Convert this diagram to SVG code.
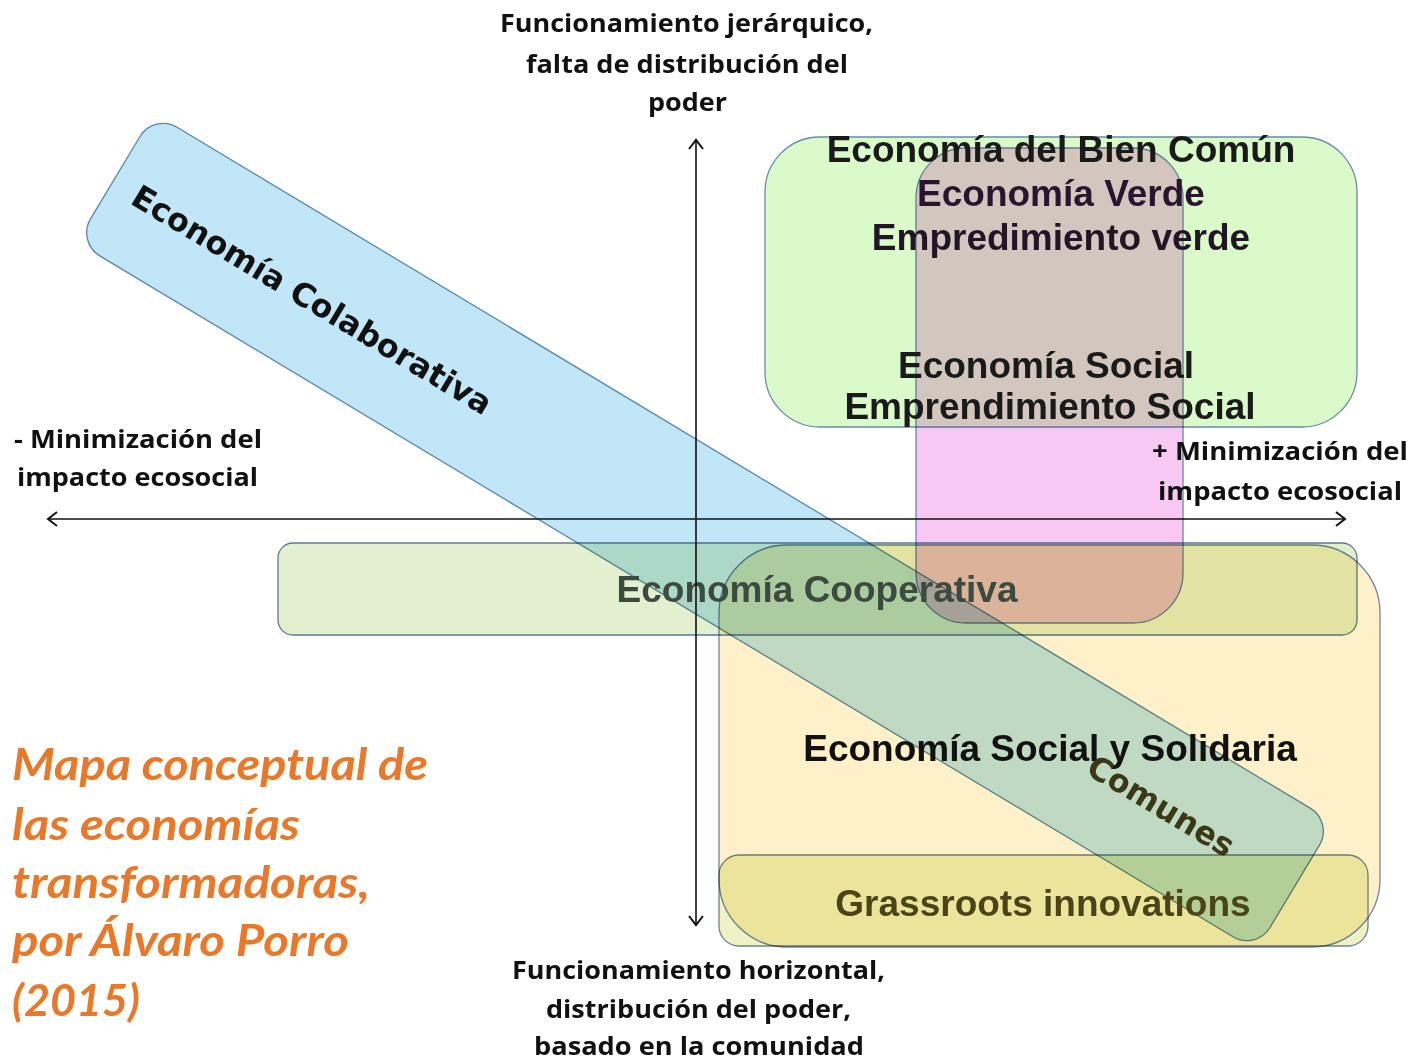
<svg xmlns="http://www.w3.org/2000/svg" width="1414" height="1061" viewBox="0 0 1414 1061">
<defs>
<style>
.box{mix-blend-mode:multiply;stroke-width:1.3}
.lbl{font-family:"Liberation Sans",Arial,sans-serif;font-weight:bold;font-size:37px;text-anchor:middle}
.rot{font-family:"DejaVu Sans",Verdana,sans-serif;font-weight:bold;font-size:32px;text-anchor:middle}
.axl{font-family:"Open Sans","Noto Sans",sans-serif;font-weight:bold;font-size:25px;fill:#111}
.ttl{font-family:Lato,"Open Sans",sans-serif;font-weight:bold;font-style:italic;font-size:43px;fill:#e8782a}
.axis{fill:none;stroke:#111;stroke-width:1.6}
</style>
<marker id="ah" viewBox="-12 -9 14 18" refX="0" refY="0" markerWidth="14" markerHeight="18" markerUnits="userSpaceOnUse" orient="auto-start-reverse">
<path d="M-9,-7 L0,0 L-9,7" fill="none" stroke="#111" stroke-width="2"/>
</marker>
</defs>
<rect width="1414" height="1061" fill="#fff"/>

<g id="cooperativa">
<rect class="box" x="278" y="543" width="1079" height="92" rx="15" fill="#e3f0cf" stroke="#5d7a9a"/>
</g>
<g id="colaborativa">
<rect class="box" x="-688" y="-75" width="1376" height="150" rx="27" fill="#c1e6f8" stroke="#5a86aa" transform="translate(705,532) rotate(31)"/>
</g>
<g id="bien-comun">
<rect class="box" x="765" y="137" width="592" height="290" rx="55" fill="#dafbc9" stroke="#6a8aac"/>
</g>
<g id="social">
<rect class="box" x="916" y="148" width="267" height="475" rx="50" fill="#f7c9f2" stroke="#7080b8"/>
</g>
<g id="ess">
<rect class="box" x="719" y="545" width="661" height="402" rx="68" fill="#fef1c9" stroke="#6c86a6"/>
</g>
<g id="grassroots">
<rect class="box" x="719" y="855" width="649" height="91" rx="20" fill="#eef2c6" stroke="#6f8096"/>
</g>

<g id="labels">
<text class="lbl" x="1061" y="162" fill="#1a1a1a">Economía del Bien Común</text>
<text class="lbl" x="1061" y="206" fill="#2a1530">Economía Verde</text>
<text class="lbl" x="1061" y="250" fill="#221626">Empredimiento verde</text>
<text class="lbl" x="1046" y="378" fill="#1a1a1a">Economía Social</text>
<text class="lbl" x="1050" y="419" fill="#1a1a1a">Emprendimiento Social</text>
<text class="lbl" x="817" y="602" fill="#3d4a40">Economía Cooperativa</text>
<text class="lbl" x="1050" y="761" fill="#111">Economía Social y Solidaria</text>
<text class="lbl" x="1043" y="916" fill="#4a4518">Grassroots innovations</text>
<text class="rot" transform="translate(312,300) rotate(31)" y="11" fill="#111">Economía Colaborativa</text>
<text class="rot" transform="translate(1161,806) rotate(31)" y="11" fill="#3a3815">Comunes</text>
</g>

<g id="connectors">
<line class="axis" x1="696" y1="925" x2="696" y2="140" marker-end="url(#ah)" marker-start="url(#ah)"/>
<line class="axis" x1="48" y1="519" x2="1345" y2="519" stroke="#444" stroke-width="2" marker-end="url(#ah)" marker-start="url(#ah)"/>
</g>

<g id="axis-labels">
<text class="axl" x="500" y="32" textLength="373" lengthAdjust="spacingAndGlyphs">Funcionamiento jerárquico,</text>
<text class="axl" x="526" y="73" textLength="322" lengthAdjust="spacingAndGlyphs">falta de distribución del</text>
<text class="axl" x="648" y="111" textLength="79" lengthAdjust="spacingAndGlyphs">poder</text>
<text class="axl" x="512" y="979" textLength="373" lengthAdjust="spacingAndGlyphs">Funcionamiento horizontal,</text>
<text class="axl" x="546" y="1018" textLength="305" lengthAdjust="spacingAndGlyphs">distribución del poder,</text>
<text class="axl" x="534" y="1055" textLength="330" lengthAdjust="spacingAndGlyphs">basado en la comunidad</text>
<text class="axl" x="14" y="448" textLength="248" lengthAdjust="spacingAndGlyphs">- Minimización del</text>
<text class="axl" x="17" y="486" textLength="241" lengthAdjust="spacingAndGlyphs">impacto ecosocial</text>
<text class="axl" x="1152" y="460" textLength="256" lengthAdjust="spacingAndGlyphs">+ Minimización del</text>
<text class="axl" x="1158" y="500" textLength="244" lengthAdjust="spacingAndGlyphs">impacto ecosocial</text>
</g>

<g id="title">
<text class="ttl" x="12" y="780" textLength="416" lengthAdjust="spacingAndGlyphs">Mapa conceptual de</text>
<text class="ttl" x="12" y="840" textLength="288" lengthAdjust="spacingAndGlyphs">las economías</text>
<text class="ttl" x="12" y="898" textLength="358" lengthAdjust="spacingAndGlyphs">transformadoras,</text>
<text class="ttl" x="12" y="956" textLength="337" lengthAdjust="spacingAndGlyphs">por Álvaro Porro</text>
<text class="ttl" x="12" y="1016" textLength="128" lengthAdjust="spacingAndGlyphs">(2015)</text>
</g>
</svg>
